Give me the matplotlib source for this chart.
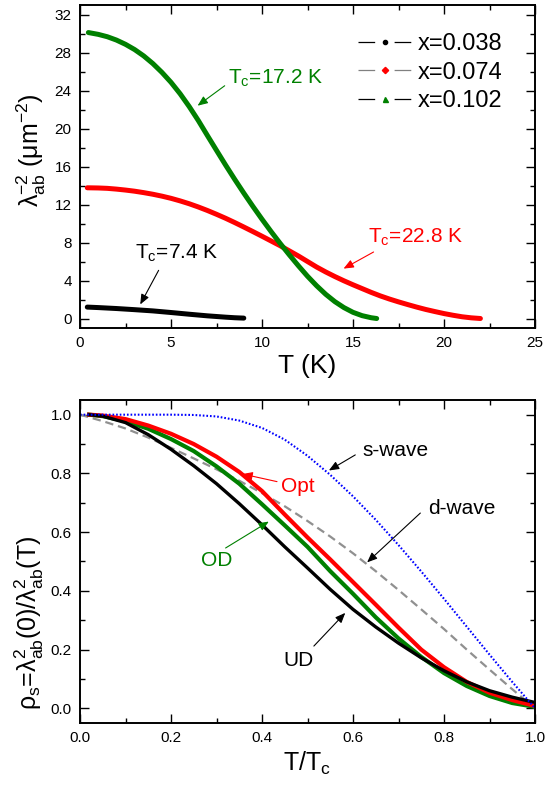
import matplotlib
matplotlib.use("Agg")
import matplotlib.pyplot as plt
from matplotlib.lines import Line2D
from matplotlib.ticker import MultipleLocator, FormatStrFormatter

plt.rcParams['font.family'] = ['Liberation Sans', 'DejaVu Sans']
plt.rcParams['lines.scale_dashes'] = False

# ---------------- data: top panel (lambda^-2 vs T) ----------------
T_038 = [0.4, 1.0, 2.0, 3.0, 4.0, 5.0, 6.0, 7.0, 8.0, 8.5, 9.0]
L_038 = [1.2, 1.15, 1.05, 0.93, 0.8, 0.63, 0.45, 0.28, 0.14, 0.08, 0.04]

T_074 = [0.4, 1.0, 1.5, 2.0, 2.5, 3.0, 3.5, 4.0, 4.5, 5.0, 5.5, 6.0, 6.5, 7.0,
         7.5, 8.0, 8.5, 9.0, 9.5, 10.0, 10.5, 11.0, 11.5, 12.0, 12.5, 13.0,
         13.5, 14.0, 14.5, 15.0, 15.5, 16.0, 16.5, 17.0, 17.5, 18.0, 18.5,
         19.0, 19.5, 20.0, 20.5, 21.0, 21.5, 22.0]
L_074 = [13.76, 13.74, 13.7, 13.62, 13.52, 13.4, 13.25, 13.08, 12.88, 12.65,
         12.38, 12.08, 11.74, 11.37, 10.97, 10.55, 10.1, 9.63, 9.15, 8.66,
         8.16, 7.66, 7.12, 6.58, 6.0, 5.42, 4.9, 4.42, 3.97, 3.55, 3.15, 2.75,
         2.38, 2.05, 1.75, 1.47, 1.2, 0.95, 0.73, 0.52, 0.34, 0.18, 0.07, 0.0]

T_102 = [0.46, 1.0, 1.5, 2.0, 2.5, 3.0, 3.5, 4.0, 4.5, 5.0, 5.5, 6.0, 6.5,
         7.0, 7.5, 8.0, 8.5, 9.0, 9.5, 10.0, 10.5, 11.0, 11.5, 12.0, 12.5,
         13.0, 13.5, 14.0, 14.5, 15.0, 15.5, 16.0, 16.3]
L_102 = [30.1, 29.91, 29.66, 29.31, 28.86, 28.31, 27.64, 26.84, 25.91, 24.86,
         23.66, 22.31, 20.84, 19.26, 17.7, 16.15, 14.65, 13.2, 11.8, 10.45,
         9.15, 7.9, 6.7, 5.55, 4.45, 3.45, 2.55, 1.78, 1.15, 0.65, 0.3, 0.08,
         0.0]

legend_labels = ['x=0.038', 'x=0.074', 'x=0.102']

# ---------------- data: bottom panel (superfluid density) ----------------
t_UD = [0.02, 0.05, 0.1, 0.15, 0.2, 0.25, 0.3, 0.35, 0.4, 0.45, 0.5, 0.55,
        0.6, 0.65, 0.7, 0.75, 0.8, 0.85, 0.9, 0.95, 0.98, 1.0]
r_UD = [1.0, 0.995, 0.973, 0.932, 0.882, 0.826, 0.765, 0.697, 0.625, 0.55,
        0.478, 0.405, 0.337, 0.277, 0.222, 0.172, 0.128, 0.09, 0.06, 0.038,
        0.027, 0.02]

t_Opt = [0.02, 0.05, 0.1, 0.15, 0.2, 0.25, 0.3, 0.35, 0.4, 0.45, 0.5, 0.55,
         0.6, 0.65, 0.7, 0.75, 0.8, 0.85, 0.9, 0.95, 1.0]
r_Opt = [1.0, 0.997, 0.985, 0.963, 0.935, 0.9, 0.857, 0.805, 0.74, 0.66,
         0.582, 0.507, 0.43, 0.353, 0.275, 0.2, 0.14, 0.09, 0.053, 0.028, 0.008]

t_OD = [0.02, 0.05, 0.1, 0.15, 0.2, 0.25, 0.3, 0.35, 0.4, 0.45, 0.5, 0.55,
        0.6, 0.65, 0.7, 0.75, 0.8, 0.85, 0.9, 0.95, 1.0]
r_OD = [1.0, 0.995, 0.978, 0.952, 0.917, 0.876, 0.824, 0.765, 0.695, 0.623,
        0.55, 0.467, 0.39, 0.31, 0.238, 0.175, 0.12, 0.076, 0.042, 0.018, 0.005]

t_s = [0.0, 0.1, 0.2, 0.25, 0.3, 0.35, 0.4, 0.45, 0.5, 0.55, 0.6, 0.65, 0.7,
       0.75, 0.8, 0.85, 0.9, 0.95, 1.0]
r_s = [1.0, 1.0, 1.0, 0.999, 0.994, 0.98, 0.955, 0.915, 0.86, 0.795, 0.722,
       0.642, 0.556, 0.466, 0.373, 0.278, 0.183, 0.09, 0.0]

t_d = [0.0, 0.05, 0.1, 0.15, 0.2, 0.25, 0.3, 0.35, 0.4, 0.45, 0.5, 0.55, 0.6,
       0.65, 0.7, 0.75, 0.8, 0.85, 0.9, 0.95, 1.0]
r_d = [1.0, 0.978, 0.953, 0.922, 0.887, 0.851, 0.814, 0.775, 0.733, 0.688,
       0.638, 0.585, 0.528, 0.467, 0.403, 0.337, 0.27, 0.2, 0.132, 0.065, 0.0]

RED = '#ff0000'
GREEN = '#008000'
BLUE = '#0000ff'
GREY = '#909090'

fig = plt.figure(figsize=(5.45, 7.9), dpi=100)
ax1 = fig.add_axes([80 / 545, 1 - 328 / 790, 455 / 545, 323 / 790])
ax2 = fig.add_axes([80 / 545, 1 - 723 / 790, 455 / 545, 323 / 790])


def style_axes(ax):
    for s in ax.spines.values():
        s.set_linewidth(1.4)
    ax.tick_params(which='both', direction='in', top=True, right=True,
                   labelsize=11, width=1.0, pad=6)
    ax.tick_params(which='major', length=6.5)
    ax.tick_params(which='minor', length=3.3)


# ---------------- top panel ----------------
ax1.plot(T_038, L_038, color='black', lw=3.6, solid_capstyle='round',
         solid_joinstyle='round')
ax1.plot(T_074, L_074, color=RED, lw=3.6, solid_capstyle='round',
         solid_joinstyle='round')
ax1.plot(T_102, L_102, color=GREEN, lw=3.6, solid_capstyle='round',
         solid_joinstyle='round')

ax1.set_xlim(0, 25)
ax1.set_ylim(-1, 33)
ax1.xaxis.set_major_locator(MultipleLocator(5))
ax1.xaxis.set_minor_locator(MultipleLocator(2.5))
ax1.yaxis.set_major_locator(MultipleLocator(4))
ax1.yaxis.set_minor_locator(MultipleLocator(2))
style_axes(ax1)
ax1.set_xlabel('T (K)', fontsize=19, labelpad=3)
ax1.set_ylabel('λ$_{\\mathregular{ab}}^{\\mathregular{-2}}$ (μm$^{\\mathregular{-2}}$)',
               fontsize=18)
ax1.yaxis.set_label_coords(-0.071, 0.55)

arrow_kw = dict(arrowstyle='-|>,head_length=0.6,head_width=0.25', lw=0.8,
                shrinkA=0, shrinkB=0, mutation_scale=10)

ax1.annotate('', xy=(6.46, 22.4), xytext=(7.95, 24.5),
             arrowprops=dict(color=GREEN, **arrow_kw))
ax1.text(8.11, 24.71, 'T$_\\mathregular{c}$=17.2 K', color=GREEN, fontsize=15,
         ha='left', va='baseline')
ax1.annotate('', xy=(14.48, 5.25), xytext=(16.13, 7.0),
             arrowprops=dict(color=RED, **arrow_kw))
ax1.text(15.84, 8.06, 'T$_\\mathregular{c}$=22.8 K', color=RED, fontsize=15,
         ha='left', va='baseline')
ax1.annotate('', xy=(3.31, 1.48), xytext=(4.32, 5.07),
             arrowprops=dict(color='black', **arrow_kw))
ax1.text(3.04, 6.3, 'T$_\\mathregular{c}$=7.4 K', color='black', fontsize=15,
         ha='left', va='baseline')

dash = (12, 14, 12, 100)
handles = [
    Line2D([], [], color='black', lw=0.9, dashes=dash, marker='o', ms=3,
           mfc='black', mec='black'),
    Line2D([], [], color='#808080', lw=0.9, dashes=dash, marker='D', ms=3.2,
           mfc=RED, mec=RED),
    Line2D([], [], color='black', lw=0.9, dashes=dash, marker='^', ms=3.6,
           mfc=GREEN, mec=GREEN),
]
ax1.legend(handles, legend_labels, loc='upper left', bbox_to_anchor=(0.611, 0.913),
           frameon=False, fontsize=17, handlelength=2.25, handletextpad=0.3,
           labelspacing=0.28, borderpad=0, borderaxespad=0, numpoints=1)

# ---------------- bottom panel ----------------
ax2.plot(t_d, r_d, color=GREY, lw=1.6, dashes=(6, 3.5))
ax2.plot(t_OD, r_OD, color=GREEN, lw=3.0, solid_joinstyle='round')
ax2.plot(t_Opt, r_Opt, color=RED, lw=3.0, solid_joinstyle='round')
ax2.plot(t_UD, r_UD, color='black', lw=2.4, solid_joinstyle='round')
ax2.plot(t_s, r_s, color=BLUE, lw=1.5, dashes=(1.2, 1.4))

ax2.set_xlim(0, 1.0)
ax2.set_ylim(-0.05, 1.05)
ax2.xaxis.set_major_locator(MultipleLocator(0.2))
ax2.xaxis.set_minor_locator(MultipleLocator(0.1))
ax2.yaxis.set_major_locator(MultipleLocator(0.2))
ax2.yaxis.set_minor_locator(MultipleLocator(0.1))
ax2.xaxis.set_major_formatter(FormatStrFormatter('%.1f'))
ax2.yaxis.set_major_formatter(FormatStrFormatter('%.1f'))
style_axes(ax2)
ax2.set_xlabel('T/T$_{\\mathregular{c}}$', fontsize=18, labelpad=3)
ax2.set_ylabel('ρ$_{\\mathregular{s}}$=λ$_{\\mathregular{ab}}^{\\mathregular{2}}$(0)/'
               'λ$_{\\mathregular{ab}}^{\\mathregular{2}}$(T)', fontsize=18)
ax2.yaxis.set_label_coords(-0.074, 0.31)

ax2.annotate('', xy=(0.547, 0.81), xytext=(0.605, 0.863),
             arrowprops=dict(color='black', **arrow_kw))
ax2.text(0.621, 0.86, 's-wave', color='black', fontsize=15, ha='left', va='baseline')
ax2.annotate('', xy=(0.631, 0.497), xytext=(0.748, 0.665),
             arrowprops=dict(color='black', **arrow_kw))
ax2.text(0.766, 0.6616, 'd-wave', color='black', fontsize=15, ha='left', va='baseline')
ax2.annotate('', xy=(0.357, 0.798), xytext=(0.433, 0.772),
             arrowprops=dict(color=RED, **arrow_kw))
ax2.text(0.441, 0.735, 'Opt', color=RED, fontsize=15, ha='left', va='baseline')
ax2.annotate('', xy=(0.415, 0.636), xytext=(0.32, 0.546),
             arrowprops=dict(color=GREEN, **arrow_kw))
ax2.text(0.265, 0.486, 'OD', color=GREEN, fontsize=15, ha='left', va='baseline')
ax2.annotate('', xy=(0.583, 0.325), xytext=(0.514, 0.212),
             arrowprops=dict(color='black', **arrow_kw))
ax2.text(0.448, 0.1437, 'UD', color='black', fontsize=15, ha='left', va='baseline')

fig.savefig('out.png', dpi=100)
